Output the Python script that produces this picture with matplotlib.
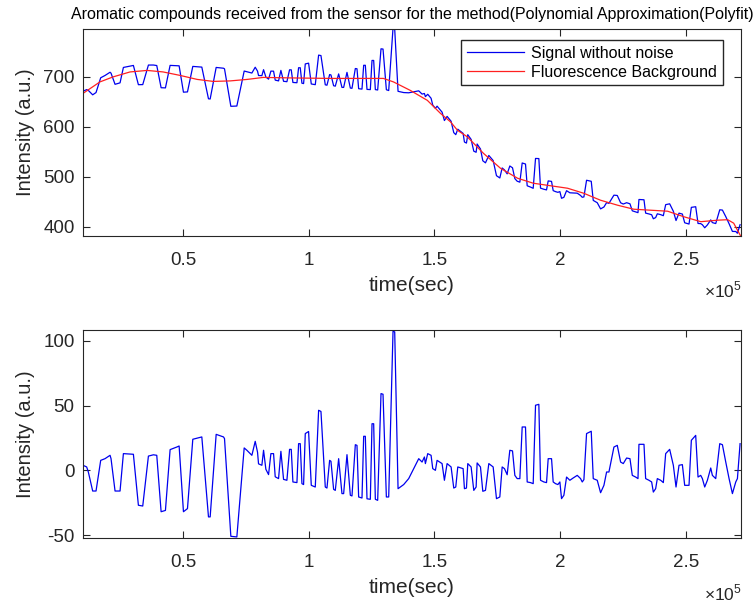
import numpy as np
import matplotlib
matplotlib.use("Agg")
import matplotlib.pyplot as plt
from matplotlib.ticker import FuncFormatter

plt.rcParams['font.family'] = ['Liberation Sans', 'DejaVu Sans']
plt.rcParams['mathtext.fontset'] = 'custom'
plt.rcParams['mathtext.rm'] = 'Liberation Sans'
plt.rcParams['axes.unicode_minus'] = False

# 去噪后信号的残差 (signal - background), time in seconds
res_t = [10030, 11620, 12280, 14010, 15340, 17200, 18920, 20920, 21310, 22910,
         24900, 26230, 30210, 32200, 33930, 36190, 38180, 39510, 41240, 42960,
         44820, 47480, 48410, 50130, 51730, 53850, 57440, 60090, 60760, 63150,
         66070, 66470, 68990, 71380, 74300, 75370, 77360, 78690, 79610, 80010,
         81340, 82010, 82930, 84000, 84930, 85990, 86650, 87980, 88910, 89970,
         91300, 92360, 93030, 93690, 95290, 95950, 96610, 97280,
         97940, 98610, 99930, 101000, 102590, 103920, 104850, 106570, 107240, 108300,
         108830, 109890, 110560, 111890, 113210, 113880, 115210, 116540, 117200, 118530,
         119190, 119850, 121180, 121850, 122510, 123170, 124500, 125170, 125830, 126490,
         127420, 128750, 129550, 130880, 131810, 133530, 134200, 135530, 137780, 139770,
         141770, 143760, 145090, 146020, 146410, 147340, 148670, 149340, 150400, 151060,
         153050, 153980, 155050, 156640, 157700, 158500, 159300, 161420, 161950, 162750,
         163280, 164610, 165670, 166600, 167000, 168330, 169260, 170320, 171650, 173380,
         174700, 176030, 176960, 177890, 178950, 180010, 181080, 182010, 182940, 184000,
         184930,
         186250, 186920, 188240, 189310, 190240, 191560, 192230, 193560, 194620, 195280,
         196610, 197270, 198200, 199130, 199930, 200590, 201520, 202590, 203910, 205240,
         206840, 208160, 208830, 209490, 210550, 212410, 213210, 214800, 216130, 217460,
         218520, 219450, 220380, 221440, 222770, 224100, 225160, 226490, 227820, 228750,
         230080, 231010, 231400, 233400, 234060, 235390, 236450, 237120, 238040, 238710,
         240040, 241100, 242030, 243620, 245080, 246150, 247340, 248670, 249600, 251320,
         252250, 253980, 254910, 255970, 256640, 257570, 258630, 259960, 260620, 261950,
         263550, 264610, 265940, 267260, 268590, 269920, 270580, 271640]
res_val = [4, 2.6, -1.3, -16, -16, 7.7, 9, 11.6, 9, -16,
           -16, 12.9, 12.4, -27, -27.6, 11, 12, 11.6, -32, -31,
           16, 18, 18.8, -32, -29.6, 24, 25.8, -36, -36, 27.8,
           25.8, 24.5, -51, -51.5, 17.3, 15.5, 11.6, 22.4, 14, 5,
           3.9, 15.5, 0.8, -3.3, 12.9, 12.9, -5, -6.4, 14.7, -7,
           -7.7, 16.2, 16.2, -9, -9.5, 20.6, 20.6, -10.3,
           -11, 28.4, 30, -11.6, -12.9, 46.4, 45.5, -12.9, -13.7, 7.7,
           7, -14.7, -15.5, 9, -18, -18, 12.1, -19.3, -19.8, 19.8,
           19.3, -20.6, -21.4, 26.3, 26.3, -22, -22.4, 36, 36, -22.4,
           -23.2, 59.3, 58.8, -20.6, -20.6, 107.5, 107, -14.2, -11, -6.4,
           1.3, 9, 6.4, 10.3, 5.2, 12.9, 11.6, 1.3, 0, 7.7,
           5.2, -7.7, 5.2, 2.6, -13.7, -12.9, 2.6, 1.3, -14.2, -13.7,
           5.2, 2.6, -15.5, -12.9, 5.7, 2.6, -16.2, -15.5, 5.2, 2.6,
           -21.9, -20.6, 2.6, 1.3, -3.4, 15.5, 15, -3.9, -6.4, -6.4,
           33.5,
           33.5, -9, -9.5, -10.3, 50.3, 51, -7.7, -9, -9.5, 9,
           9, -9, -10.3, -11, -9, -21.9, -19.3, -5.2, -7.7, -5.9,
           -3.9, -6.4, -9, -7.2, 28.4, 30.2, -6.4, -7.7, -17.3, -11.6,
           -1.3, -1.3, 7.7, 18, 19.3, 6.4, 5.2, 9.5, 9, -3.9,
           -5.2, -6.4, 20.1, 20.1, -6.4, -7.7, -9, -16.8, -14.2, -6.4,
           -7.7, -9.5, 12.9, 16.2, 3.9, -12.9, 3.9, 4.4, -11.6, -11.6,
           23.2, 27, -5.2, -3.9, -6.4, -12.9, -7.7, 1.8, -3.9, -6.4,
           20.6, 19.8, 6.4, -6.4, -18, -9, -6.4, 20.6]

# 荧光背景 (polyfit curve)
bg_t = [10160, 16900, 22100, 28900, 35700, 42000, 48800, 55600, 62000, 68700,
        75500, 81900, 92600, 108600, 129700, 133700, 140400, 147200, 152400, 156400,
        159200, 163100, 169500, 176300, 183100, 189400, 196200, 203000, 209400, 216100,
        222900, 229300, 236000, 242800, 249200, 256000, 262700, 266700, 269100, 271900]
bg_val = [667, 690, 700, 710, 713, 710, 703, 695, 691, 692,
          695, 699, 698, 697, 697, 690, 673, 653, 627, 610,
          593, 580, 547, 517, 497, 487, 482, 477, 467, 453,
          443, 435, 433, 431, 420, 410, 413, 414, 407, 381]

x_ticks = [50000, 100000, 150000, 200000, 250000]

res_t = np.array(res_t)
res_val = np.array(res_val)
# 信号 = 背景 + 残差
signal = np.interp(res_t, bg_t, bg_val) + res_val

edge = '#262626'
fig = plt.figure(figsize=(7.56, 6.04), dpi=100)
ax1 = fig.add_axes([0.1098, 0.609, 0.870, 0.343])
ax2 = fig.add_axes([0.1098, 0.1093, 0.870, 0.344])

ax1.plot(res_t, signal, color='#0000ee', lw=0.9, label='Signal without noise')
ax1.plot(bg_t, bg_val, color='#ff2020', lw=0.9, label='Fluorescence Background')
ax2.plot(res_t, res_val, color='#0000ee', lw=0.9)

ax1.set_ylim(381, 796)
ax1.set_yticks([400, 500, 600, 700])
ax2.set_ylim(-52.3, 108.3)
ax2.set_yticks([-50, 0, 50, 100])

for ax in (ax1, ax2):
    ax.set_xlim(10160, 271900)
    ax.set_xticks(x_ticks)
    ax.xaxis.set_major_formatter(FuncFormatter(lambda v, p: '%g' % (v / 1e5)))
    ax.tick_params(direction='in', top=True, right=True, length=5, width=0.8,
                   labelsize=13.5, colors=edge, pad=6)
    ax.tick_params(axis='x', pad=11.5)
    for s in ax.spines.values():
        s.set_color(edge)
        s.set_linewidth(0.8)
    ax.set_xlabel('time(sec)', fontsize=15, color=edge, labelpad=5)
    ax.set_ylabel('Intensity (a.u.)', fontsize=14.5, color=edge, labelpad=6)

ax1.set_title('Aromatic compounds received from the sensor for the method(Polynomial Approximation(Polyfit)',
              fontsize=11.5, pad=7)
ax1.legend(loc='upper right', bbox_to_anchor=(0.9726, 0.947), borderaxespad=0,
           fancybox=False, edgecolor=edge, framealpha=1, fontsize=11.5,
           handlelength=3.6, handletextpad=0.45, borderpad=0.35, labelspacing=0.25)

fig.text(742 / 756, 1 - 297 / 604, r'×10$^{5}$', ha='right', va='baseline', fontsize=12.5, color=edge)
fig.text(742 / 756, 1 - 600 / 604, r'×10$^{5}$', ha='right', va='baseline', fontsize=12.5, color=edge)

plt.savefig('out.png', dpi=100)
